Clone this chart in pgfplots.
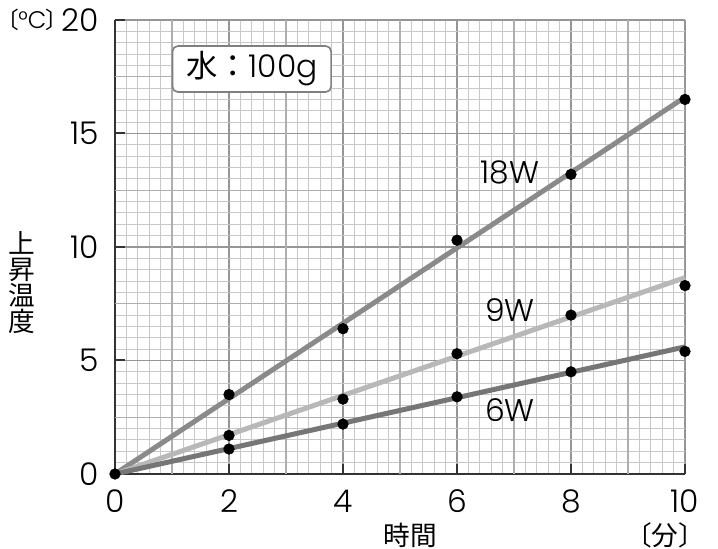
\documentclass[border=0pt]{standalone}
\usepackage{pgfplots}
\pgfplotsset{compat=1.18}
\usepackage{fontspec}
\IfFontExistsTF{Poppins Light}{\setmainfont{Poppins Light}}{\setmainfont{Poppins}}
\newfontfamily\jp{Noto Sans CJK JP}
\newfontfamily\jpp[RawFeature=+palt]{Noto Sans CJK JP}

\definecolor{w18}{RGB}{138,138,138}
\definecolor{w9}{RGB}{184,184,184}
\definecolor{w6}{RGB}{118,118,118}
\definecolor{gridminor}{RGB}{200,200,200}
\definecolor{gridmid}{RGB}{175,175,175}
\definecolor{gridmajor}{RGB}{150,150,150}

\begin{document}
\fontsize{23.5pt}{26pt}\selectfont
\begin{tikzpicture}
\useasboundingbox (-86.25pt,-56.25pt) rectangle (452.25pt,355.5pt);
\begin{axis}[
    scale only axis,
    width=427.5pt, height=340.5pt,
    xmin=0, xmax=10, ymin=0, ymax=20,
    xtick={0,2,...,10}, ytick={0,5,...,20},
    minor xtick={0,0.2,...,10}, minor ytick={0,0.5,...,20},
    extra x ticks={1,3,5,7,9}, extra y ticks={2.5,7.5,12.5,17.5},
    extra x tick labels={}, extra y tick labels={},
    extra tick style={grid=major, major grid style={gridmid, line width=1pt}, major tick length=0pt},
    grid=both,
    minor grid style={gridminor, line width=0.8pt},
    major grid style={gridmajor, line width=1.1pt},
    axis x line*=bottom, axis y line*=left,
    axis line style={black!80, line width=1.5pt},
    tick align=inside, major tick length=7.5pt, minor tick length=0pt,
    tick style={black!80, line width=1.5pt},
    /pgf/number format/assume math mode=true,
    xticklabel style={yshift=-4pt},
    yticklabel style={inner sep=1pt, xshift=-10.8pt},
    clip=false,
  ]
  % fitted lines
  \addplot[no marks, line width=3.75pt, w18] coordinates {(0,0) (10,16.6)};
  \addplot[no marks, line width=3.75pt, w9] coordinates {(0,0) (10,8.65)};
  \addplot[no marks, line width=3.75pt, w6] coordinates {(0,0) (10,5.6)};

  % measured points
  \addplot[only marks, mark=*, mark size=4pt, black] coordinates {
    (0,0) (2,3.5) (4,6.4) (6,10.3) (8,13.2) (10,16.5)};
  \addplot[only marks, mark=*, mark size=4pt, black] coordinates {
    (2,1.7) (4,3.3) (6,5.3) (8,7.0) (10,8.3)};
  \addplot[only marks, mark=*, mark size=4pt, black] coordinates {
    (2,1.1) (4,2.2) (6,3.4) (8,4.5) (10,5.4)};

  \node at (axis cs:6.93,13.3) {18W};
  \node at (axis cs:6.93,7.22) {9W};
  \node at (axis cs:6.93,2.82) {6W};

  \node[draw=gray, line width=1.2pt, rounded corners=4pt, fill=white,
        minimum width=119pt, minimum height=34.5pt, inner sep=0pt]
    at (axis cs:2.4,17.84) {{\jp 水：}100g};
\end{axis}
\node[inner sep=0pt, anchor=east] at (-42.75pt,340.5pt)
  {{\jpp\fontsize{17pt}{20pt}\selectfont 〔}{\fontsize{18pt}{20pt}\selectfont °C}{\jpp\fontsize{17pt}{20pt}\selectfont 〕}};
\node[align=center, font=\jp\fontsize{20pt}{19.5pt}\selectfont] at (-69.75pt,143.25pt) {上\\昇\\温\\度};
\node[font=\jp\fontsize{20pt}{24pt}\selectfont] at (221.25pt,-45.75pt) {時間};
\node[font=\jp\fontsize{20pt}{24pt}\selectfont] at (412.5pt,-45.75pt) {〔分〕};
\end{tikzpicture}
\end{document}
